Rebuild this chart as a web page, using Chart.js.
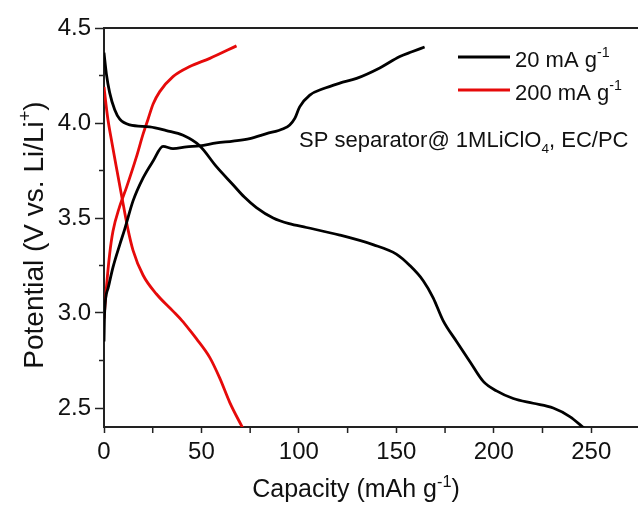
<!DOCTYPE html>
<html>
<head>
<meta charset="utf-8">
<script src="https://cdn.jsdelivr.net/npm/chart.js@4.4.1/dist/chart.umd.min.js"></script>
<style>
  html, body { margin: 0; padding: 0; background: #fff; }
  #wrap { width: 638px; height: 505px; }
</style>
</head>
<body>
<div id="wrap"><canvas id="capChart" width="638" height="505"></canvas></div>
<script>
// capacity (mAh/g) vs potential (V)
var blackDisX = [0, 1.2, 2.9, 5.5, 8.1, 13.2, 23.5, 32, 40.6, 49.1, 57.7, 66.2, 72, 78.2, 86.8, 95, 103.9, 121, 138, 150, 156.9, 163.8, 168.9, 174, 180.9, 187.7, 194.6, 201.4, 210, 220.2, 230.5, 239, 246.8];
var blackDisY = [4.37, 4.26, 4.16, 4.07, 4.02, 3.99, 3.98, 3.96, 3.935, 3.88, 3.77, 3.675, 3.61, 3.555, 3.50, 3.47, 3.45, 3.41, 3.36, 3.31, 3.25, 3.17, 3.08, 2.96, 2.85, 2.745, 2.64, 2.59, 2.55, 2.525, 2.50, 2.455, 2.39];

var blackChgX = [0, 0.3, 2.1, 4.6, 8.1, 10.6, 14.9, 20, 25.2, 30.3, 35.4, 42.3, 49.1, 57.7, 66.2, 74.8, 83.4, 92, 95.3, 97.9, 100.4, 105.6, 112.4, 121, 129.6, 141.5, 151.8, 158, 164.5];
var blackChgY = [2.85, 3.0, 3.13, 3.24, 3.36, 3.44, 3.59, 3.71, 3.80, 3.877, 3.865, 3.874, 3.88, 3.895, 3.905, 3.918, 3.944, 3.97, 3.99, 4.024, 4.085, 4.147, 4.18, 4.21, 4.235, 4.29, 4.35, 4.375, 4.40];

var redDisX = [0, 1.0, 2.0, 4.0, 6.3, 9, 12.3, 14.9, 20, 26.9, 35.4, 40, 44, 47.4, 54.3, 59.4, 64.5, 71.4];
var redDisY = [4.19, 4.10, 4.02, 3.90, 3.77, 3.62, 3.44, 3.33, 3.20, 3.10, 3.01, 2.96, 2.91, 2.865, 2.765, 2.657, 2.53, 2.39];

var redChgX = [0, 1.2, 2.9, 4.6, 8, 11.5, 16.6, 20, 22.6, 25.2, 28.6, 35.4, 44, 54.3, 68];
var redChgY = [2.97, 3.13, 3.31, 3.43, 3.56, 3.66, 3.82, 3.94, 4.02, 4.10, 4.165, 4.244, 4.297, 4.34, 4.406];

var xTicks = [0, 50, 100, 150, 200, 250];
var xMinor = [25, 75, 125, 175, 225];
var yTicks = [2.5, 3.0, 3.5, 4.0, 4.5];
var yMinor = [2.75, 3.25, 3.75, 4.25];

var FONT = '"Liberation Sans", Arial, sans-serif';
var BLACK = '#000000';
var RED = '#e60a0a';

function pairs(xs, ys) {
    return xs.map(function (x, i) { return { x: x, y: ys[i] }; });
}

function makeSet(label, xs, ys, color) {
    return {
        label: label,
        data: pairs(xs, ys),
        borderColor: color,
        backgroundColor: color,
        borderWidth: 2.8,
        pointRadius: 0,
        showLine: true,
        cubicInterpolationMode: 'monotone',
        fill: false
    };
}

// draws text runs with super/subscripts, returns width
function drawRich(ctx, parts, x, y, size, measureOnly) {
    var cx = x;
    parts.forEach(function (p) {
        var fs = size, dy = 0;
        if (p[1] === 'sup') { fs = size * 0.65; dy = -size * 0.42; }
        if (p[1] === 'sub') { fs = size * 0.62; dy = size * 0.25; }
        ctx.font = fs + 'px ' + FONT;
        if (!measureOnly) ctx.fillText(p[0], cx, y + dy);
        cx += ctx.measureText(p[0]).width;
    });
    return cx - x;
}

var frameAndMinor = {
    id: 'frameAndMinor',
    afterDraw: function (chart) {
        var ctx = chart.ctx, a = chart.chartArea;
        var xs = chart.scales.x, ys = chart.scales.y;
        ctx.save();
        ctx.strokeStyle = '#222';
        ctx.lineWidth = 1.5;
        ctx.beginPath();
        xMinor.forEach(function (v) {
            var p = xs.getPixelForValue(v);
            ctx.moveTo(p, a.bottom);
            ctx.lineTo(p, a.bottom + 6);
        });
        yMinor.forEach(function (v) {
            var p = ys.getPixelForValue(v);
            ctx.moveTo(a.left, p);
            ctx.lineTo(a.left - 5, p);
        });
        ctx.stroke();
        ctx.lineWidth = 2;
        ctx.beginPath();
        ctx.moveTo(a.left - 1, a.top);
        ctx.lineTo(a.right, a.top);
        ctx.stroke();
        ctx.restore();
    }
};

var labelsPlugin = {
    id: 'labelsPlugin',
    afterDraw: function (chart) {
        var ctx = chart.ctx;
        ctx.save();
        ctx.fillStyle = '#111';
        ctx.textBaseline = 'alphabetic';
        ctx.textAlign = 'left';

        // x title
        var xt = [['Capacity (mAh g', 'n'], ['-1', 'sup'], [')', 'n']];
        var w = drawRich(ctx, xt, 0, 0, 25, true);
        drawRich(ctx, xt, 356 - w / 2, 497, 25);

        // y title, rotated
        var yt = [['Potential (V vs. Li/Li', 'n'], ['+', 'sup'], [')', 'n']];
        w = drawRich(ctx, yt, 0, 0, 28, true);
        ctx.save();
        ctx.translate(43, 235);
        ctx.rotate(-Math.PI / 2);
        drawRich(ctx, yt, -w / 2, 0, 28);
        ctx.restore();

        // legend, one entry per current density
        var seen = [];
        var row = 0;
        chart.data.datasets.forEach(function (ds) {
            if (seen.indexOf(ds.label) >= 0) return;
            seen.push(ds.label);
            var ly = 57 + row * 33;
            ctx.strokeStyle = ds.borderColor;
            ctx.lineWidth = 3;
            ctx.beginPath();
            ctx.moveTo(458, ly);
            ctx.lineTo(510, ly);
            ctx.stroke();
            ctx.fillStyle = '#111';
            drawRich(ctx, [[ds.label, 'n'], ['-1', 'sup']], 515, ly + 9.5, 22);
            row++;
        });

        // electrolyte note
        drawRich(ctx, [['SP separator@ 1MLiClO', 'n'], ['4', 'sub'], [', EC/PC', 'n']], 299, 147, 22);
        ctx.restore();
    }
};

var ctx = document.getElementById('capChart').getContext('2d');
var capChart = new Chart(ctx, {
    type: 'scatter',
    data: {
        datasets: [
            makeSet('20 mA g', blackDisX, blackDisY, BLACK),
            makeSet('20 mA g', blackChgX, blackChgY, BLACK),
            makeSet('200 mA g', redDisX, redDisY, RED),
            makeSet('200 mA g', redChgX, redChgY, RED)
        ]
    },
    options: {
        responsive: false,
        animation: false,
        devicePixelRatio: 1,
        layout: { padding: { top: 28, right: 0, bottom: 0, left: 0 } },
        plugins: {
            legend: { display: false },
            tooltip: { enabled: false }
        },
        scales: {
            x: {
                type: 'linear',
                min: 0,
                max: 274,
                afterBuildTicks: function (s) { s.ticks = xTicks.map(function (v) { return { value: v }; }); },
                afterFit: function (s) { s.height = 78; },
                grid: { drawOnChartArea: false, tickLength: 6, tickWidth: 1.5, tickColor: '#222' },
                border: { color: '#222', width: 2 },
                ticks: {
                    font: { family: FONT, size: 24 },
                    color: '#111',
                    padding: 5,
                    maxRotation: 0,
                    autoSkip: false,
                    callback: function (v) { return String(v); }
                }
            },
            y: {
                type: 'linear',
                min: 2.4,
                max: 4.5,
                afterBuildTicks: function (s) { s.ticks = yTicks.map(function (v) { return { value: v }; }); },
                afterFit: function (s) { s.width = 104; },
                grid: { drawOnChartArea: false, tickLength: 9, tickWidth: 1.5, tickColor: '#222' },
                border: { color: '#222', width: 2 },
                ticks: {
                    font: { family: FONT, size: 24 },
                    color: '#111',
                    padding: 4,
                    autoSkip: false,
                    callback: function (v) { return v.toFixed(1); }
                }
            }
        }
    },
    plugins: [frameAndMinor, labelsPlugin]
});
</script>
</body>
</html>
